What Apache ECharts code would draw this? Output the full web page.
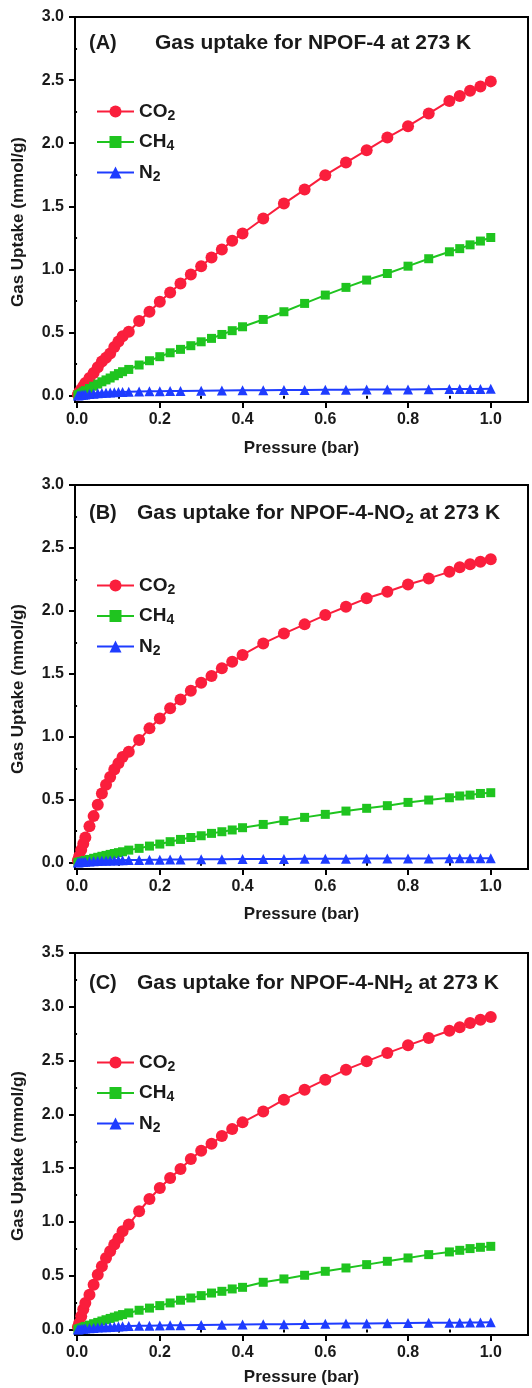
<!DOCTYPE html>
<html><head><meta charset="utf-8">
<script src="https://cdn.jsdelivr.net/npm/echarts@6/dist/echarts.min.js"></script>
<style>html,body{margin:0;padding:0;background:#fff}#c{width:532px;height:1388px}</style>
</head><body><div id="c"></div>
<script>
// ---------- data ----------
const PRESSURE = [0.002,0.005,0.01,0.015,0.02,0.03,0.04,0.05,0.06,0.07,0.08,0.09,0.10,0.11,
  0.125,0.15,0.175,0.2,0.225,0.25,0.275,0.3,0.325,0.35,0.375,0.4,
  0.45,0.5,0.55,0.6,0.65,0.7,0.75,0.8,0.85,0.9,0.925,0.95,0.975,1.0];
const PRESSURE_N2 = [0.002,0.005,0.01,0.015,0.02,0.03,0.04,0.05,0.06,0.07,0.08,0.09,0.10,0.11,
  0.125,0.15,0.175,0.2,0.225,0.25,0.3,0.35,0.4,
  0.45,0.5,0.55,0.6,0.65,0.7,0.75,0.8,0.85,0.9,0.925,0.95,0.975,1.0];

const A_CO2 = [0.01,0.025,0.05,0.075,0.10,0.14,0.18,0.225,0.27,0.30,0.335,0.385,0.43,0.47,
  0.507,0.591,0.665,0.744,0.818,0.889,0.96,1.026,1.095,1.158,1.227,1.285,
  1.404,1.522,1.633,1.747,1.847,1.945,2.045,2.135,2.235,2.335,2.375,2.415,2.45,2.49];
const A_CH4 = [0.005,0.01,0.02,0.03,0.04,0.057,0.075,0.092,0.11,0.125,0.14,0.158,0.175,0.19,
  0.208,0.243,0.277,0.309,0.34,0.367,0.396,0.427,0.454,0.485,0.515,0.546,
  0.604,0.665,0.731,0.797,0.858,0.916,0.968,1.026,1.085,1.14,1.165,1.195,1.225,1.253];
const A_N2 = [0.002,0.004,0.006,0.008,0.01,0.013,0.016,0.019,0.021,0.023,0.025,0.027,0.029,0.03,
  0.032,0.034,0.035,0.036,0.037,0.038,0.04,0.042,0.043,
  0.044,0.045,0.046,0.047,0.048,0.049,0.05,0.05,0.051,0.052,0.052,0.053,0.053,0.054];

const B_CO2 = [0.02,0.05,0.10,0.15,0.20,0.29,0.37,0.46,0.55,0.62,0.68,0.74,0.79,0.84,
  0.882,0.974,1.067,1.146,1.226,1.297,1.366,1.43,1.483,1.544,1.597,1.65,
  1.742,1.82,1.893,1.967,2.033,2.10,2.152,2.21,2.258,2.31,2.346,2.37,2.39,2.41];
const B_CH4 = [0.002,0.005,0.009,0.013,0.018,0.026,0.035,0.043,0.051,0.058,0.066,0.073,0.08,0.087,
  0.10,0.114,0.132,0.148,0.167,0.185,0.20,0.214,0.233,0.246,0.26,0.278,
  0.304,0.334,0.36,0.384,0.41,0.432,0.453,0.479,0.498,0.516,0.53,0.537,0.55,0.556];
const B_N2 = [0.001,0.003,0.005,0.006,0.008,0.01,0.012,0.014,0.015,0.016,0.017,0.018,0.019,0.02,
  0.021,0.022,0.023,0.024,0.025,0.026,0.027,0.028,0.029,
  0.03,0.03,0.031,0.032,0.032,0.033,0.033,0.034,0.034,0.035,0.035,0.035,0.036,0.036];

const C_CO2 = [0.025,0.06,0.124,0.19,0.248,0.325,0.418,0.51,0.588,0.666,0.728,0.79,0.85,0.914,
  0.976,1.10,1.214,1.316,1.409,1.493,1.586,1.663,1.728,1.80,1.864,1.926,
  2.028,2.137,2.23,2.323,2.416,2.493,2.57,2.642,2.71,2.778,2.81,2.85,2.88,2.905];
const C_CH4 = [0.003,0.008,0.015,0.022,0.03,0.042,0.055,0.067,0.08,0.092,0.104,0.116,0.128,0.14,
  0.155,0.18,0.20,0.223,0.248,0.273,0.294,0.316,0.34,0.356,0.378,0.393,
  0.44,0.471,0.505,0.542,0.573,0.604,0.635,0.666,0.697,0.722,0.737,0.753,0.765,0.774];
const C_N2 = [0.002,0.004,0.006,0.008,0.01,0.013,0.016,0.019,0.021,0.023,0.025,0.027,0.029,0.031,
  0.033,0.035,0.037,0.039,0.04,0.041,0.043,0.045,0.047,
  0.049,0.051,0.053,0.055,0.057,0.058,0.06,0.061,0.063,0.064,0.065,0.066,0.067,0.068];

const X_TICKS = [0, 0.2, 0.4, 0.6, 0.8, 1.0];
const X_MINOR_TICKS = [0.1, 0.3, 0.5, 0.7, 0.9];
const Y_TICKS_AB = [0, 0.5, 1.0, 1.5, 2.0, 2.5, 3.0];
const Y_MINOR_AB = [0.25, 0.75, 1.25, 1.75, 2.25, 2.75];
const Y_TICKS_C = [0, 0.5, 1.0, 1.5, 2.0, 2.5, 3.0, 3.5];
const Y_MINOR_C = [0.25, 0.75, 1.25, 1.75, 2.25, 2.75, 3.25];

const PANEL_TAGS = ['(A)', '(B)', '(C)'];
const PANEL_TITLES = [
  '{t|Gas uptake for NPOF-4 at 273 K}',
  '{t|Gas uptake for NPOF-4-NO}{s|2}{t| at 273 K}',
  '{t|Gas uptake for NPOF-4-NH}{s|2}{t| at 273 K}'
];
const GAS_LABELS = { CO2: '{n|CO}{s|2}', CH4: '{n|CH}{s|4}', N2: '{n|N}{s|2}' };
const X_NAME = 'Pressure (bar)';
const Y_NAME = 'Gas Uptake (mmol/g)';

// ---------- layout / style ----------
const FONT = '"Liberation Sans", Arial, Helvetica, sans-serif';
const RED = '#fa1e3c', GREEN = '#1fc41f', BLUE = '#1e3cff';
const TXT = '#1a1a1a';

const panels = [
  { id: 'A', top: 17, height: 385, ymax: 3.0, yt: Y_TICKS_AB, ym: Y_MINOR_AB, co2: A_CO2, ch4: A_CH4, n2: A_N2,
    titleTop: 31, titleLeft: 155, legendTop: 96, xNameGap: 38, yNameY: 222 },
  { id: 'B', top: 485, height: 384, ymax: 3.0, yt: Y_TICKS_AB, ym: Y_MINOR_AB, co2: B_CO2, ch4: B_CH4, n2: B_N2,
    titleTop: 501, titleLeft: 137, legendTop: 570, xNameGap: 37, yNameY: 689 },
  { id: 'C', top: 953, height: 382, ymax: 3.5, yt: Y_TICKS_C, ym: Y_MINOR_C, co2: C_CO2, ch4: C_CH4, n2: C_N2,
    titleTop: 971, titleLeft: 137, legendTop: 1047, xNameGap: 34, yNameY: 1156 }
];

const grid = [], xAxis = [], yAxis = [], series = [], legend = [], title = [], graphic = [];
const pair = (xs, ys) => xs.map((x, i) => [x, ys[i]]);
const fmt = v => v.toFixed(1);

panels.forEach((p, i) => {
  grid.push({ left: 75, width: 453, top: p.top, height: p.height, show: true,
    borderColor: '#000', borderWidth: 2, backgroundColor: '#fff' });
  const xBase = { type: 'value', gridIndex: i, min: -0.005, max: 1.09, position: 'bottom', offset: 0,
    splitLine: { show: false }, axisLine: { show: true, onZero: false, lineStyle: { color: '#000', width: 2 } } };
  xAxis.push(Object.assign({}, xBase, {
    name: X_NAME, nameLocation: 'middle', nameGap: p.xNameGap,
    nameTextStyle: { fontFamily: FONT, fontWeight: 'bold', fontSize: 17, color: TXT },
    axisTick: { show: true, inside: false, length: 6, customValues: X_TICKS, lineStyle: { color: '#000', width: 2 } },
    axisLabel: { show: true, customValues: X_TICKS, formatter: fmt, margin: 10,
      fontFamily: FONT, fontWeight: 'bold', fontSize: 16, color: TXT }
  }));
  xAxis.push(Object.assign({}, xBase, {
    axisLine: { show: false },
    axisTick: { show: true, inside: false, length: 3, customValues: X_MINOR_TICKS, lineStyle: { color: '#000', width: 2 } },
    axisLabel: { show: false }
  }));
  const yBase = { type: 'value', gridIndex: i, min: -0.05, max: p.ymax, position: 'left', offset: 0,
    splitLine: { show: false }, axisLine: { show: true, onZero: false, lineStyle: { color: '#000', width: 2 } } };
  yAxis.push(Object.assign({}, yBase, {
    axisTick: { show: true, inside: false, length: 6, customValues: p.yt, lineStyle: { color: '#000', width: 2 } },
    axisLabel: { show: true, customValues: p.yt, formatter: fmt, margin: 11,
      fontFamily: FONT, fontWeight: 'bold', fontSize: 16, color: TXT }
  }));
  yAxis.push(Object.assign({}, yBase, {
    axisLine: { show: false },
    axisTick: { show: true, inside: false, length: 3, customValues: p.ym, lineStyle: { color: '#000', width: 2 } },
    axisLabel: { show: false }
  }));

  // y-axis title (rotated), centred a little below the plot middle as in the original
  graphic.push({ type: 'text', x: 18, y: p.yNameY, rotation: Math.PI / 2, silent: true,
    style: { text: Y_NAME, fontFamily: FONT, fontWeight: 'bold', fontSize: 17, fill: TXT,
      align: 'center', verticalAlign: 'middle' } });

  const mk = (gas, xs, ys, color, symbol, size) => ({
    name: p.id + ':' + gas, type: 'line', xAxisIndex: 2 * i, yAxisIndex: 2 * i,
    data: pair(xs, ys), symbol: symbol, symbolSize: size, showAllSymbol: true,
    lineStyle: { color: color, width: 2 }, itemStyle: { color: color }, clip: false,
    emphasis: { disabled: true }, z: 3
  });
  series.push(mk('CO2', PRESSURE, p.co2, RED, 'circle', 12));
  series.push(mk('CH4', PRESSURE, p.ch4, GREEN, 'rect', 9));
  series.push(mk('N2', PRESSURE_N2, p.n2, BLUE, 'triangle', 10));

  legend.push({
    data: ['CO2', 'CH4', 'N2'].map(g => p.id + ':' + g),
    orient: 'vertical', left: 91, top: p.legendTop, itemWidth: 37, itemHeight: 15, itemGap: 8.5,
    selectedMode: false,
    formatter: name => GAS_LABELS[name.split(':')[1]],
    textStyle: { padding: [0, 0, 0, 0], rich: {
      n: { fontFamily: FONT, fontWeight: 'bold', fontSize: 19, color: TXT, lineHeight: 21 },
      s: { fontFamily: FONT, fontWeight: 'bold', fontSize: 14, color: TXT, lineHeight: 21, verticalAlign: 'top', padding: [8, 0, 0, 0] }
    } }
  });

  title.push({ text: PANEL_TAGS[i], left: 89, top: p.titleTop, padding: 0,
    textStyle: { fontFamily: FONT, fontWeight: 'bold', fontSize: 20, color: TXT, lineHeight: 24 } });
  title.push({ text: PANEL_TITLES[i], left: p.titleLeft, top: p.titleTop, padding: 0,
    textStyle: { rich: {
      t: { fontFamily: FONT, fontWeight: 'bold', fontSize: 21, color: TXT, lineHeight: 24 },
      s: { fontFamily: FONT, fontWeight: 'bold', fontSize: 15, color: TXT, lineHeight: 24, verticalAlign: 'top', padding: [10, 0, 0, 0] }
    } } });
});

const chart = echarts.init(document.getElementById('c'), null, { renderer: 'canvas' });
chart.setOption({ animation: false, backgroundColor: '#fff', title, grid, xAxis, yAxis, legend, series, graphic });
</script></body></html>
